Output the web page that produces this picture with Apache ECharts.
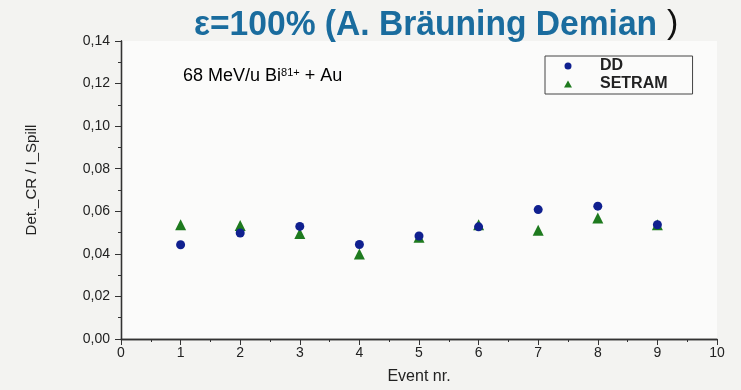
<!DOCTYPE html>
<html>
<head>
<meta charset="utf-8">
<script src="https://cdn.jsdelivr.net/npm/echarts@6/dist/echarts.min.js"></script>
<style>
  html, body { margin: 0; padding: 0; background: #f3f3f1; }
  #chart { width: 741px; height: 390px; }
</style>
</head>
<body>
<div id="chart"></div>
<script>
// values
const events = [1, 2, 3, 4, 5, 6, 7, 8, 9];
const ddValues = [0.0443, 0.0498, 0.0529, 0.0444, 0.0484, 0.0527, 0.0608, 0.0624, 0.0537];
const setramValues = [0.0537, 0.0533, 0.0496, 0.0399, 0.0478, 0.0537, 0.0511, 0.0569, 0.0537];

const FONT = "Liberation Sans, Arial, sans-serif";
const AXIS_COLOR = "#333";

const chart = echarts.init(document.getElementById("chart"), null, { renderer: "canvas" });

const fmt = (v) => v.toFixed(2).replace(".", ",");

const baseAxisLine = { show: true, lineStyle: { color: AXIS_COLOR, width: 1.3 } };

const option = {
  backgroundColor: "#f3f3f1",
  animation: false,
  grid: {
    left: 121,
    right: 24,
    top: 41,
    bottom: 51,
    show: true,
    backgroundColor: "#fbfbfa",
    borderWidth: 0,
  },
  graphic: [
    {
      type: "text",
      left: 194,
      top: 8,
      scaleX: 0.96,
      style: {
        text: "ε=100% (A. Bräuning Demian",
        font: "bold 35px 'Liberation Sans', Arial, sans-serif",
        fill: "#1a6c9e",
      },
    },
    {
      type: "text",
      left: 667,
      top: 7,
      style: {
        text: ")",
        font: "34px 'Liberation Sans', Arial, sans-serif",
        fill: "#111",
      },
    },
    {
      type: "text",
      left: 183,
      top: 67,
      style: {
        text: "{a|68 MeV/u Bi}{s|81+}{a| + Au}",
        rich: {
          a: { fontFamily: FONT, fontSize: 18, color: "#222" },
          s: { fontFamily: FONT, fontSize: 11, color: "#222", verticalAlign: "top", padding: [0, 0, 8, 0] },
        },
      },
    },
  ],
  legend: {
    orient: "vertical",
    left: 545,
    top: 56,
    padding: [2, 25, 2, 19],
    itemGap: 2,
    itemWidth: 8,
    itemHeight: 7,
    borderColor: "#444",
    borderWidth: 1,
    backgroundColor: "#fbfbfa",
    textStyle: { fontFamily: FONT, fontSize: 16, fontWeight: "bold", color: "#222", lineHeight: 14, padding: [0, 0, 0, 23] },
    data: [
      { name: "DD", icon: "circle" },
      { name: "SETRAM", icon: "triangle" },
    ],
  },
  xAxis: [
    {
      type: "value",
      min: 0,
      max: 10,
      interval: 1,
      position: "bottom",
      name: "Event nr.",
      nameLocation: "middle",
      nameGap: 30,
      nameTextStyle: { fontFamily: FONT, fontSize: 16, color: "#222" },
      axisLine: baseAxisLine,
      axisTick: { show: true, inside: false, length: 6, lineStyle: { color: AXIS_COLOR } },
      minorTick: { show: true, splitNumber: 2, length: 3, lineStyle: { color: AXIS_COLOR } },
      axisLabel: { fontFamily: FONT, fontSize: 14, color: "#222", margin: 7 },
      splitLine: { show: false },
    },
    {
      type: "value",
      min: 0,
      max: 10,
      interval: 1,
      position: "top",
      axisLine: baseAxisLine,
      axisTick: { show: true, inside: true, length: 6, lineStyle: { color: AXIS_COLOR } },
      minorTick: { show: true, splitNumber: 2, length: 3, lineStyle: { color: AXIS_COLOR } },
      axisLabel: { show: false },
      splitLine: { show: false },
    },
  ],
  yAxis: [
    {
      type: "value",
      min: 0,
      max: 0.14,
      interval: 0.02,
      position: "left",
      name: "Det._CR / I_Spill",
      nameLocation: "middle",
      nameGap: 82,
      nameRotate: 90,
      nameTextStyle: { fontFamily: FONT, fontSize: 15, color: "#222", padding: [0, 0, 0, 20] },
      axisLine: baseAxisLine,
      axisTick: { show: true, inside: false, length: 6, lineStyle: { color: AXIS_COLOR } },
      minorTick: { show: true, splitNumber: 2, length: 3, lineStyle: { color: AXIS_COLOR } },
      axisLabel: { fontFamily: FONT, fontSize: 14, color: "#222", margin: 11, formatter: fmt },
      splitLine: { show: false },
    },
    {
      type: "value",
      min: 0,
      max: 0.14,
      interval: 0.02,
      position: "right",
      axisLine: baseAxisLine,
      axisTick: { show: true, inside: true, length: 6, lineStyle: { color: AXIS_COLOR } },
      minorTick: { show: true, splitNumber: 2, length: 3, lineStyle: { color: AXIS_COLOR } },
      axisLabel: { show: false },
      splitLine: { show: false },
    },
  ],
  series: [
    {
      name: "SETRAM",
      type: "scatter",
      symbol: "triangle",
      symbolSize: 11,
      itemStyle: { color: "#1e7a1e", opacity: 1 },
      data: events.map((e, i) => [e, setramValues[i]]),
      z: 2,
    },
    {
      name: "DD",
      type: "scatter",
      symbol: "circle",
      symbolSize: 9,
      itemStyle: { color: "#10208f", opacity: 1 },
      data: events.map((e, i) => [e, ddValues[i]]),
      z: 3,
    },
  ],
};

chart.setOption(option);
</script>
</body>
</html>
